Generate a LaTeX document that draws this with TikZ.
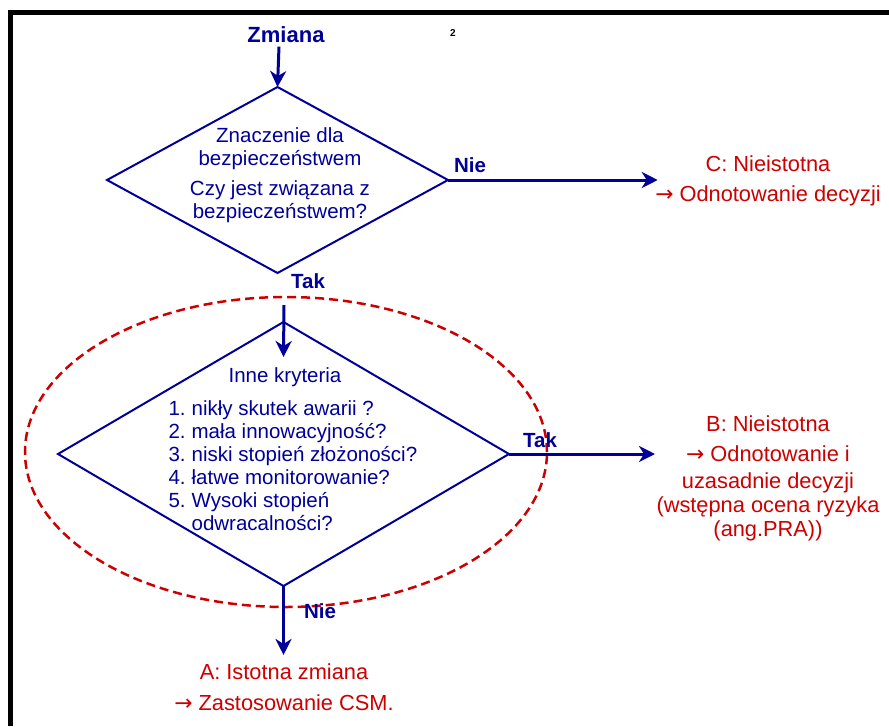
\documentclass[tikz,border=0pt]{standalone}
\usepackage{fontspec}
\setmainfont{Liberation Sans}
\newfontfamily\strzalkafont{DejaVu Sans}
\usetikzlibrary{shapes.geometric,arrows.meta}
\definecolor{granat}{RGB}{0,0,153}
\definecolor{czerwien}{RGB}{204,0,0}
\newcommand{\wiec}{{\strzalkafont →}}

\begin{document}
\begin{tikzpicture}[x=1pt,y=-1pt,
        romb/.style={draw=granat,line width=2pt,shape=diamond,inner sep=0pt,outer sep=0pt},
        opis/.style={text=granat,align=center,font=\fontsize{20.5}{23}\selectfont},
        wynik/.style={text=czerwien,align=center,font=\fontsize{21.8}{24}\selectfont},
        etykieta/.style={text=granat,font=\fontsize{20.5}{24}\selectfont\bfseries},
        strzalka/.style={draw=granat,line width=3pt,-{Stealth[length=16pt,width=16pt,inset=5pt]}}]
        \useasboundingbox (0,0) rectangle (889,726);
        \draw[line width=5pt] (10.5,726) -- (10.5,12.5) -- (889,12.5);

        \node[etykieta,font=\fontsize{22}{24}\selectfont\bfseries] (zmiana) at (286,35) {Zmiana};
        \node[font=\fontsize{10}{11}\selectfont\bfseries] (przypis) at (453,33) {2};

        % pierwsze pytanie
        \node[romb,minimum width=341pt,minimum height=186pt] (znaczenie) at (277.5,180) {};
        \node[opis] (znaczenietxt) at (280,175) {Znaczenie dla\\bezpieczeństwem\\[7pt]Czy jest związana z\\bezpieczeństwem?};

        % strefa kryteriow
        \draw[czerwien,line width=2.5pt,dash pattern=on 9pt off 5pt] (286,452) ellipse [x radius=261pt,y radius=155pt];
        \node[romb,minimum width=451pt,minimum height=264pt] (kryteria) at (283.5,454) {};
        \node[opis] (kryteriatxt) at (285,377) {Inne kryteria};
        \node[opis,anchor=base west,align=left] (lista) at (165,415) {\begin{tabular}[t]{@{}l@{\hspace{6pt}}l@{}}
                1. & nikły skutek awarii ?\\
                2. & mała innowacyjność?\\
                3. & niski stopień złożoności?\\
                4. & łatwe monitorowanie?\\
                5. & Wysoki stopień\\
                   & odwracalności?
            \end{tabular}};

        % wyniki
        \node[wynik] (wynikC) at (768,181) {C: Nieistotna\\[6pt]\wiec{} Odnotowanie decyzji};
        \node[wynik] (wynikB) at (768,478) {B: Nieistotna\\[6pt]\wiec{} Odnotowanie i\\[3pt]uzasadnie decyzji\\(wstępna ocena ryzyka\\(ang.PRA))};
        \node[wynik] (wynikA) at (284,687) {A: Istotna zmiana\\[7pt]\wiec{} Zastosowanie CSM.};

        \node[etykieta] (nie1) at (470,165) {Nie};
        \node[etykieta] (tak1) at (308,281) {Tak};
        \node[etykieta] (tak2) at (540,440) {Tak};
        \node[etykieta] (nie2) at (320,611) {Nie};

        \coordinate (takstart) at (284,305);
        \draw[strzalka] ([xshift=-7pt]zmiana.south) -- (znaczenie.north);
        \draw[strzalka] (znaczenie.east) -- ([xshift=6pt]znaczenie.east -| wynikC.west);
        \draw[strzalka] (takstart) -- ([yshift=-35pt]kryteria.north);
        \draw[strzalka] (kryteria.east) -- ([xshift=2pt]kryteria.east -| wynikB.west);
        \draw[strzalka] (kryteria.south) -- ([yshift=5pt]kryteria.south |- wynikA.north);
    \end{tikzpicture}
\end{document}
